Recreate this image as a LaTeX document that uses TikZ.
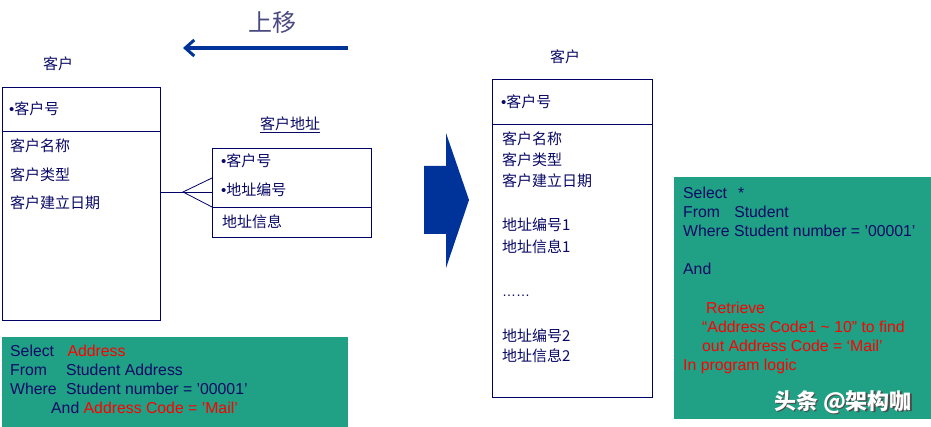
\documentclass[tikz,border=0pt]{standalone}
\usepackage{fontspec}
\setmainfont{Liberation Sans}
\newfontfamily\cjk{Noto Sans CJK SC}
\newfontfamily\lat{Liberation Sans}
\usetikzlibrary{arrows.meta}
\definecolor{navy}{HTML}{0A0A66}
\definecolor{boxline}{HTML}{000066}
\definecolor{sqlgreen}{HTML}{20A084}
\definecolor{bigblue}{HTML}{003399}
\definecolor{titlecol}{HTML}{4A4A82}
\newcommand{\bul}{{\lat •}}
\begin{document}
\begin{tikzpicture}[x=1pt,y=-1pt,
  ent/.style={draw=boxline,line width=0.9pt,fill=white},
  cjktxt/.style={anchor=west,inner sep=0pt,text=navy,font=\cjk\fontsize{15}{17}\selectfont},
  sqltxt/.style={anchor=west,inner sep=0pt,text=navy,font=\fontsize{15.8}{18}\selectfont},
  sqlbox/.style={fill=sqlgreen,draw=none},
  foot/.style={draw=boxline,line width=0.8pt}]
\useasboundingbox (0,0) rectangle (931,427);
\fill[white] (0,0) rectangle (931,427);

% top title and arrow
\node[anchor=center,inner sep=0pt,text=titlecol,font=\cjk\fontsize{24}{26}\selectfont] (up) at (272,22) {上移};
\coordinate (arS) at (348,48);
\coordinate (arE) at (183,48);
\draw[bigblue,line width=3.5pt,-{Straight Barb[length=9pt,width=16pt,line width=3pt]}] (arS) -- (arE);

% left entity
\node[cjktxt,anchor=center] (lt) at (58,64) {客户};
\draw[ent] (2,87) rectangle (160,320);
\draw[boxline,line width=0.9pt] (2,131) -- (160,131);
\node[cjktxt] (l1) at (9,109) {\bul 客户号};
\node[cjktxt] (l2) at (10,146) {客户名称};
\node[cjktxt] (l3) at (10,175) {客户类型};
\node[cjktxt] (l4) at (10,203) {客户建立日期};

% address entity
\node[cjktxt,anchor=center] (at) at (290,125) {\underline{客户地址}};
\draw[ent] (212,148) rectangle (371,237);
\draw[boxline,line width=0.9pt] (212,207) -- (371,207);
\node[cjktxt] (a1) at (221,161) {\bul 客户号};
\node[cjktxt] (a2) at (221,190) {\bul 地址编号};
\node[cjktxt] (a3) at (222,222) {地址信息};

% crow's foot
\coordinate (cfL) at (160,192);
\coordinate (cfP) at (183,192);
\coordinate (cf1) at (212,178);
\coordinate (cf2) at (212,192);
\coordinate (cf3) at (212,207);
\draw[foot] (cfL) -- (cfP);
\draw[foot] (cf1) -- (cfP) -- (cf3);
\draw[foot] (cfP) -- (cf2);

% left SQL box
\fill[sqlbox] (2,337) rectangle (348,427);
\node[sqltxt] (s1) at (10,351) {Select\hspace{0.85em}\textcolor{red}{Address}};
\node[sqltxt] (s2) at (10,370) {From\hspace{1.2em}Student Address};
\node[sqltxt] (s3) at (10,389) {Where\hspace{0.6em}Student number = '00001'};
\node[sqltxt] (s4) at (51,408) {And \textcolor{red}{Address Code = 'Mail'}};

% big arrow
\fill[bigblue] (424,166) -- (446,166) -- (446,133) -- (469,200) -- (446,268) -- (446,234) -- (424,234) -- cycle;

% right entity
\node[cjktxt,anchor=center] (rt) at (565,57) {客户};
\draw[ent] (492,79) rectangle (652,397);
\draw[boxline,line width=0.9pt] (492,124) -- (652,124);
\node[cjktxt] (r1) at (501,102) {\bul 客户号};
\node[cjktxt] (r2) at (502,139) {客户名称};
\node[cjktxt] (r3) at (502,160) {客户类型};
\node[cjktxt] (r4) at (502,181) {客户建立日期};
\node[cjktxt] (r5) at (502,225) {地址编号1};
\node[cjktxt] (r6) at (502,247) {地址信息1};
\node[cjktxt,font=\lat\fontsize{14}{16}\selectfont] (r7) at (502,296) {\ldots\ldots};
\node[cjktxt] (r8) at (502,336) {地址编号2};
\node[cjktxt] (r9) at (502,356) {地址信息2};

% right SQL box
\fill[sqlbox] (674,177) rectangle (931,419);
\node[sqltxt] (t1) at (683,193) {Select\hspace{0.7em}*};
\node[sqltxt] (t2) at (683,212) {From\hspace{0.9em}Student};
\node[sqltxt] (t3) at (683,231) {Where Student number = '00001’};
\node[sqltxt] (t4) at (683,269) {And};
\node[sqltxt,text=red] (t5) at (706,308) {Retrieve};
\node[sqltxt,text=red] (t6) at (702,327) {“Address Code1 \textasciitilde{} 10” to find};
\node[sqltxt,text=red] (t7) at (702,346) {out Address Code = ‘Mail’};
\node[sqltxt,text=red] (t8) at (683,366) {In program logic};

% watermark
\node[anchor=center,inner sep=0pt,text=black!70,font=\cjk\bfseries\fontsize{22}{24}\selectfont] (wms) at (844.5,403.5) {头条 @架构咖};
\node[anchor=center,inner sep=0pt,text=white,font=\cjk\bfseries\fontsize{22}{24}\selectfont] (wm) at (843,402) {头条 @架构咖};
\end{tikzpicture}
\end{document}
